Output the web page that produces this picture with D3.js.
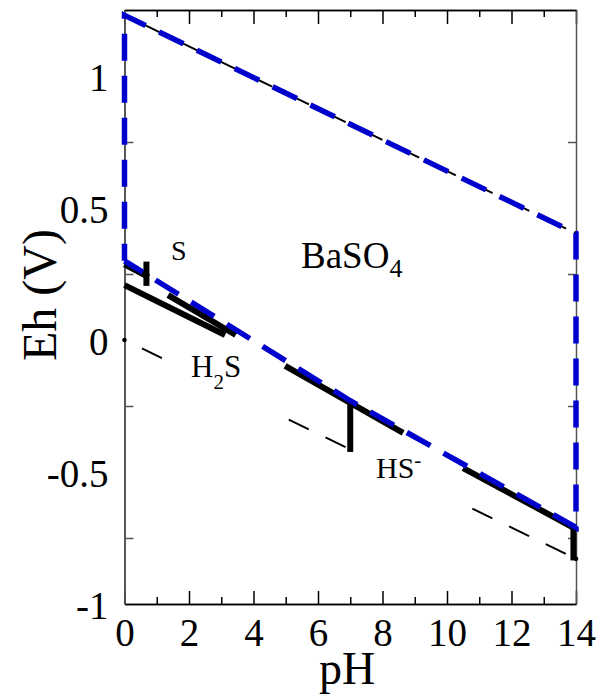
<!DOCTYPE html>
<html><head><meta charset="utf-8">
<script src="https://cdn.jsdelivr.net/npm/d3@7"></script>
<style>body{margin:0;background:#fff} svg text{font-family:"Liberation Serif","Times New Roman",serif !important;fill:#000}</style>
</head><body><svg id="c" width="599" height="696"></svg>
<script>
// ---- data ----
const pHMajorTicks = [0, 2, 4, 6, 8, 10, 12, 14];
const pHMinorTicks = [1, 3, 5, 7, 9, 11, 13];
const pHTickLabels = ["0", "2", "4", "6", "8", "10", "12", "14"];
const ehMajorTicks = [-1, -0.5, 0, 0.5, 1];
const ehMinorTicks = [-0.75, -0.25, 0.25, 0.75];
const ehTickLabels = ["-1", "-0.5", "0", "0.5", "1"];

// water stability lines
const waterUpperPH = [0, 14];
const waterUpperEh = [1.23, 0.404];
const waterLowerPH = [0, 14];
const waterLowerEh = [0, -0.829];
const waterLowerShown = [[0, 1.4], [4.95, 7.0], [10.5, 14]];

// BaSO4 stability field outline (blue)
const baso4PH = [0, 0, 14, 14, 7, 0];
const baso4Eh = [0.30, 1.23, 0.404, -0.71, -0.23, 0.30];

// sulfur species boundaries (black thick)
const sulfurSegPH = [[0, 0.75], [0.68, 0.68], [0, 3.12], [1.35, 3.45], [4.98, 8.64], [7, 7], [10.5, 14], [13.92, 13.92]];
const sulfurSegEh = [[0.287, 0.238], [0.297, 0.205], [0.208, 0.019], [0.17, 0.019], [-0.098, -0.352], [-0.24, -0.424], [-0.485, -0.716], [-0.716, -0.835]];

// ---- drawing ----
const FONT = "Liberation Serif";
const svg = d3.select("#c");
const x = d3.scaleLinear().domain([0, 14]).range([124.5, 576]);
const y = d3.scaleLinear().domain([-1, 1.25]).range([604, 10]);
const line = d3.line().x(d => x(d[0])).y(d => y(d[1]));
const zip = (a, b) => a.map((v, i) => [v, b[i]]);

function styleAxis(g, color) {
  g.attr("font-family", FONT);
  g.select(".domain").attr("stroke", color).attr("stroke-width", 1.5);
  g.selectAll(".tick line").attr("stroke", color).attr("stroke-width", 1.5);
}
const gB = svg.append("g").attr("transform", `translate(0,${y(-1)})`)
  .call(d3.axisBottom(x).tickValues(pHMajorTicks).tickFormat((d, i) => pHTickLabels[i]).tickSize(-13).tickSizeOuter(0));
gB.selectAll("text").attr("y", 42).attr("dy", null).attr("font-size", 39).style("font-family", FONT);
styleAxis(gB, "#000");
const gBm = svg.append("g").attr("transform", `translate(0,${y(-1)})`)
  .call(d3.axisBottom(x).tickValues(pHMinorTicks).tickFormat("").tickSize(-7).tickSizeOuter(0));
styleAxis(gBm, "#000");
const gT = svg.append("g").attr("transform", `translate(0,${y(1.25)})`)
  .call(d3.axisTop(x).tickValues(pHMajorTicks).tickFormat("").tickSize(-14).tickSizeOuter(0));
styleAxis(gT, "#000");
const gTm = svg.append("g").attr("transform", `translate(0,${y(1.25)})`)
  .call(d3.axisTop(x).tickValues(pHMinorTicks).tickFormat("").tickSize(-7).tickSizeOuter(0));
styleAxis(gTm, "#000");
const gL = svg.append("g").attr("transform", `translate(${x(0)},0)`)
  .call(d3.axisLeft(y).tickValues(ehMajorTicks).tickFormat((d, i) => ehTickLabels[i]).tickSize(0).tickPadding(16).tickSizeOuter(0));
gL.selectAll("text").attr("font-size", 39).attr("dy", "0.36em").style("font-family", FONT);
styleAxis(gL, "#333");
const gLm = svg.append("g").attr("transform", `translate(${x(0)},0)`)
  .call(d3.axisLeft(y).tickValues(ehMinorTicks).tickFormat("").tickSize(-9).tickSizeOuter(0));
styleAxis(gLm, "#555");
const gR = svg.append("g").attr("transform", `translate(${x(14)},0)`)
  .call(d3.axisRight(y).tickValues(ehMinorTicks).tickFormat("").tickSize(-8).tickSizeOuter(0));
styleAxis(gR, "#555");

// axis titles
svg.append("text").attr("x", 347).attr("y", 684).attr("text-anchor", "middle")
  .attr("font-size", 46).text("pH");
svg.append("text").attr("transform", `translate(56,${(y(-1) + y(1.25)) / 2 - 12}) rotate(-90)`)
  .attr("text-anchor", "middle").attr("font-size", 48).text("Eh (V)");

// clip for lower water line
const defs = svg.append("defs");
const cp = defs.append("clipPath").attr("id", "lowclip");
cp.selectAll("rect").data(waterLowerShown).join("rect")
  .attr("x", d => x(d[0])).attr("width", d => x(d[1]) - x(d[0]))
  .attr("y", y(1.25)).attr("height", y(-1) - y(1.25) + 10);

// water lines
svg.append("path").attr("d", line(zip(waterUpperPH, waterUpperEh)))
  .attr("fill", "none").attr("stroke", "#000").attr("stroke-width", 2)
  .attr("stroke-dasharray", "22.2,18.6").attr("stroke-dashoffset", 21.4);
svg.append("path").attr("d", line(zip(waterLowerPH, waterLowerEh)))
  .attr("clip-path", "url(#lowclip)")
  .attr("fill", "none").attr("stroke", "#000").attr("stroke-width", 2)
  .attr("stroke-dasharray", "22.2,18.6").attr("stroke-dashoffset", 21.4);
svg.selectAll("circle.end").data([[waterUpperPH[0], waterUpperEh[0]], [waterUpperPH[1], waterUpperEh[1]], [waterLowerPH[0], waterLowerEh[0]], [waterLowerPH[1], waterLowerEh[1]]])
  .join("circle").attr("class", "end").attr("cx", d => x(d[0])).attr("cy", d => y(d[1])).attr("r", 2.3).attr("fill", "#000");

// sulfur boundaries
svg.selectAll("path.s").data(sulfurSegPH.map((p, i) => zip(p, sulfurSegEh[i])))
  .join("path").attr("class", "s").attr("d", line)
  .attr("fill", "none").attr("stroke", "#000").attr("stroke-width", 6).attr("stroke-linecap", "butt");

// BaSO4 outline
svg.append("path").attr("d", line(zip(baso4PH, baso4Eh)))
  .attr("fill", "none").attr("stroke", "#0000cd").attr("stroke-width", 5.5)
  .attr("stroke-dasharray", "27,15").attr("stroke-dashoffset", 10);

// labels
svg.append("text").attr("x", 171).attr("y", 260).attr("font-size", 28).text("S");
const tB = svg.append("text").attr("x", 301).attr("y", 268).attr("font-size", 37);
tB.append("tspan").text("BaSO");
tB.append("tspan").attr("font-size", 26).attr("dy", 9).text("4");
const tH = svg.append("text").attr("x", 191).attr("y", 377).attr("font-size", 31);
tH.append("tspan").text("H");
tH.append("tspan").attr("font-size", 21).attr("dy", 12).text("2");
tH.append("tspan").attr("dy", -12).text("S");
const tHS = svg.append("text").attr("x", 376).attr("y", 478).attr("font-size", 30);
tHS.append("tspan").text("HS");
tHS.append("tspan").attr("font-size", 21).attr("dy", -11).text("-");
</script></body></html>
